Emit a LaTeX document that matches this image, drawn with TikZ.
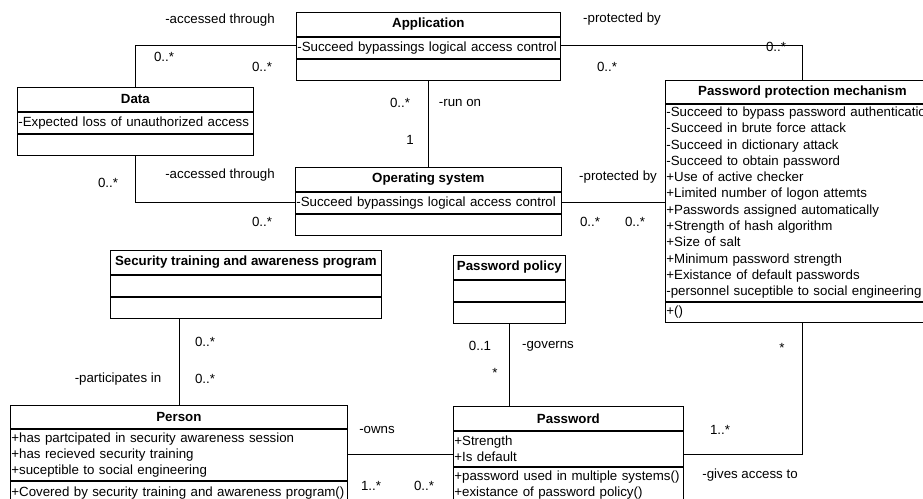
\documentclass[tikz,border=0pt]{standalone}
\usepackage{fontspec}
\setmainfont{Liberation Sans}
\usetikzlibrary{positioning}

\begin{document}
\begin{tikzpicture}[
  x=1pt, y=-1pt, line width=0.8pt,
  every node/.style={font=\fontsize{13.3}{16}\selectfont},
  cname/.style={draw, font=\fontsize{13.3}{16}\selectfont\bfseries, minimum height=24pt, inner sep=0pt, anchor=north west},
  cpart/.style={draw, align=left, inner xsep=1pt, inner ysep=0pt, minimum height=21pt},
  lbl/.style={inner sep=0pt},
]
\useasboundingbox (0,0) rectangle (923,498);
\clip (0,0) rectangle (923,498);

% Application
\node[cname, minimum width=264pt] (app) at (296,12) {Application};
\node[cpart, text width=262pt, below=0pt of app] (app-a) {-Succeed bypassings logical access control};
\node[cpart, text width=262pt, below=0pt of app-a] (app-o) {};

% Data
\node[cname, minimum width=236pt] (data) at (17,87) {Data};
\node[cpart, text width=234pt, below=0pt of data] (data-a) {-Expected loss of unauthorized access};
\node[cpart, text width=234pt, below=0pt of data-a] (data-o) {};

% Operating system
\node[cname, minimum width=266pt] (os) at (295,167) {Operating system};
\node[cpart, text width=264pt, below=0pt of os] (os-a) {-Succeed bypassings logical access control};
\node[cpart, text width=264pt, below=0pt of os-a] (os-o) {};

% Password protection mechanism
\node[cname, minimum width=274pt, minimum height=23pt] (ppm) at (665,80) {Password protection mechanism};
\node[cpart, text width=272pt, minimum height=197pt, font=\fontsize{13.3}{16.3}\selectfont, below=0pt of ppm] (ppm-a) {-Succeed to bypass password authentication\\-Succeed in brute force attack\\-Succeed in dictionary attack\\-Succeed to obtain password\\+Use of active checker\\+Limited number of logon attemts\\+Passwords assigned automatically\\+Strength of hash algorithm\\+Size of salt\\+Minimum password strength\\+Existance of default passwords\\-personnel suceptible to social engineering};
\node[cpart, text width=272pt, minimum height=20pt, below=0pt of ppm-a] (ppm-o) {+()};

% Security training and awareness program
\node[cname, minimum width=271pt] (sta) at (110,250) {Security training and awareness program};
\node[cpart, text width=269pt, below=0pt of sta] (sta-a) {};
\node[cpart, text width=269pt, below=0pt of sta-a] (sta-o) {};

% Password policy
\node[cname, minimum width=112pt] (pp) at (453,255) {Password policy};
\node[cpart, text width=110pt, below=0pt of pp] (pp-a) {};
\node[cpart, text width=110pt, below=0pt of pp-a] (pp-o) {};

% Person
\node[cname, minimum width=337pt, minimum height=23pt] (person) at (10,405) {Person};
\node[cpart, text width=335pt, minimum height=51pt, below=0pt of person] (person-a) {+has partcipated in security awareness session\\+has recieved security training\\+suceptible to social engineering};
\node[cpart, text width=335pt, minimum height=24pt, below=0pt of person-a] (person-o) {+Covered by security training and awareness program()};

% Password
\node[cname, minimum width=230pt] (pw) at (453,406) {Password};
\node[cpart, text width=228pt, minimum height=35pt, below=0pt of pw] (pw-a) {+Strength\\+Is default};
\node[cpart, text width=228pt, minimum height=36pt, below=0pt of pw-a] (pw-o) {+password used in multiple systems()\\+existance of password policy()};

% Associations
\draw ([yshift=2.5pt]app-a.west) -| (data.north);
\draw ([yshift=2.5pt]app-a.east) -| (ppm.north);
\draw (app-o.south) -- (os.north);
\draw (data-o.south) |- (os-a.west);
\draw (os-a.east) -- (os-a.east -| ppm-a.west);
\draw (person.north) -- (person.north |- sta-o.south);
\draw (pp-o.south) -- (pp-o.south |- pw.north);
\draw (person-a.east) -- (person-a.east -| pw-a.west);
\draw (ppm-o.south) |- (pw-a.east |- person-a.east);

% Role names and multiplicities
\node[lbl] (acc-app) at (220,20) {-accessed through};
\node[lbl] (m-data-app) at (164,57) {0..*};
\node[lbl] (m-app-data) at (262,67) {0..*};
\node[lbl] (prot-app) at (622,19) {-protected by};
\node[lbl] (m-app-ppm) at (607,67) {0..*};
\node[lbl] (m-ppm-app) at (776,47) {0..*};
\node[lbl] (m-app-os) at (400,103) {0..*};
\node[lbl] (runon) at (460,103) {-run on};
\node[lbl] (m-os-app) at (410,140) {1};
\node[lbl] (acc-os) at (220,175) {-accessed through};
\node[lbl] (m-data-os) at (108,183) {0..*};
\node[lbl] (m-os-data) at (262,222) {0..*};
\node[lbl] (prot-os) at (618,177) {-protected by};
\node[lbl] (m-os-ppm) at (590,222) {0..*};
\node[lbl] (m-ppm-os) at (635,222) {0..*};
\node[lbl] (m-sta) at (205,342) {0..*};
\node[lbl] (partic) at (118,379) {-participates in};
\node[lbl] (m-person-sta) at (205,379) {0..*};
\node[lbl] (owns) at (377,430) {-owns};
\node[lbl] (m-person-pw) at (371,486) {1..*};
\node[lbl] (m-pw-person) at (424,486) {0..*};
\node[lbl] (m-pp) at (480,346) {0..1};
\node[lbl] (governs) at (548,346) {-governs};
\node[lbl] (m-pw-pp) at (495,373) {*};
\node[lbl] (m-ppm-pw) at (782,348) {*};
\node[lbl] (m-pw-ppm) at (720,430) {1..*};
\node[lbl] (gives) at (750,475) {-gives access to};
\end{tikzpicture}
\end{document}
